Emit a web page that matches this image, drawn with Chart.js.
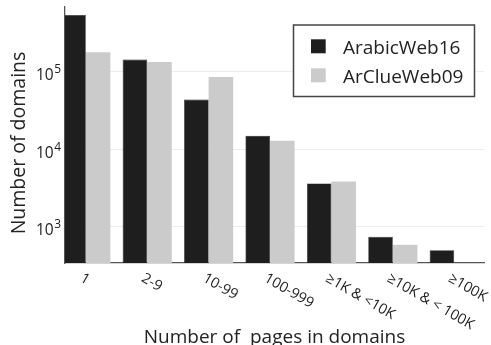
<!DOCTYPE html>
<html>
<head>
<meta charset="utf-8">
<script src="https://cdn.jsdelivr.net/npm/chart.js@4.4.1/dist/chart.umd.min.js"></script>
<style>
  html, body { margin: 0; padding: 0; background: #ffffff; }
  #wrap { width: 491px; height: 345px; }
</style>
</head>
<body>
<div id="wrap"><canvas id="c" width="491" height="345"></canvas></div>
<script>
// Domain size buckets (pages per domain)
const categories = ['1', '2-9', '10-99', '100-999', '\u22651K & <10K', '\u226510K & < 100K', '\u2265100K'];
// Number of domains in each bucket
const arabicWeb16 = [540000, 143000, 43600, 14900, 3600, 736, 495];
const arClueWeb09 = [178000, 133000, 85600, 12800, 3820, 580, null];
// Decade ticks on the log axis: [value, exponent]
const yTicks = [[1e3, '3'], [1e4, '4'], [1e5, '5']];
const seriesNames = ['ArabicWeb16', 'ArClueWeb09'];
const seriesColors = ['#1e1e1e', '#cbcbcb'];

const FONT = '"Open Sans", "Noto Sans", sans-serif';
const TEXT = '#222222';

const decorations = {
  id: 'decorations',
  afterDraw(chart) {
    const ctx = chart.ctx;
    const xs = chart.scales.x, ys = chart.scales.y;
    const area = chart.chartArea;
    ctx.save();
    ctx.fillStyle = TEXT;

    // y tick labels as 10 with a raised exponent
    yTicks.forEach(([v, exp]) => {
      const py = ys.getPixelForValue(v);
      ctx.font = '12px ' + FONT;
      ctx.textAlign = 'right';
      ctx.textBaseline = 'alphabetic';
      const ew = ctx.measureText(exp).width;
      ctx.fillText(exp, area.left - 4, py + 1.5);
      ctx.font = '15.5px ' + FONT;
      ctx.fillText('10', area.left - 4 - ew - 0.5, py + 8.5);
    });

    // x tick labels, turned 30 degrees clockwise
    ctx.font = '14.5px ' + FONT;
    ctx.textAlign = 'left';
    ctx.textBaseline = 'top';
    categories.forEach((lab, i) => {
      const px = xs.getPixelForValue(i);
      ctx.save();
      ctx.translate(px - 1, area.bottom + 8);
      ctx.rotate(Math.PI / 6);
      ctx.fillText(lab, 0, 0);
      ctx.restore();
    });

    // axis titles
    ctx.font = '19px ' + FONT;
    ctx.textAlign = 'center';
    ctx.textBaseline = 'alphabetic';
    ctx.fillText('Number of  pages in domains', 274.5, 342.5);
    ctx.save();
    ctx.translate(25, 143);
    ctx.rotate(-Math.PI / 2);
    ctx.font = '19.5px ' + FONT;
    ctx.fillText('Number of domains', 0, 0);
    ctx.restore();

    // legend box
    const lx = 293.5, ly = 25, lw = 181, lh = 71.5;
    ctx.fillStyle = '#ffffff';
    ctx.fillRect(lx, ly, lw, lh);
    ctx.strokeStyle = '#444444';
    ctx.lineWidth = 1.5;
    ctx.strokeRect(lx, ly, lw, lh);
    ctx.font = '19px ' + FONT;
    ctx.textAlign = 'left';
    ctx.textBaseline = 'alphabetic';
    seriesNames.forEach((name, k) => {
      const top = 39.3 + k * 29;
      ctx.fillStyle = seriesColors[k];
      ctx.fillRect(311, top, 14.7, 14);
      ctx.fillStyle = TEXT;
      ctx.fillText(name, 343, top + 14.5);
    });
    ctx.restore();
  }
};

new Chart(document.getElementById('c'), {
  type: 'bar',
  data: {
    datasets: [
      {
        label: seriesNames[0],
        data: arabicWeb16.map((v, i) => ({ x: i, y: v })),
        backgroundColor: seriesColors[0],
        borderColor: '#161616',
        borderWidth: 0.6,
        clip: 0
      },
      {
        label: seriesNames[1],
        data: arClueWeb09.map((v, i) => ({ x: i, y: v })),
        backgroundColor: seriesColors[1],
        borderWidth: 0,
        clip: 0
      }
    ]
  },
  options: {
    responsive: false,
    animation: false,
    events: [],
    categoryPercentage: 0.8,
    barPercentage: 1.0,
    layout: { padding: { left: 0, top: 7, right: 7, bottom: 0 } },
    plugins: {
      legend: { display: false },
      tooltip: { enabled: false }
    },
    scales: {
      x: {
        type: 'linear',
        offset: false,
        min: -0.339,
        max: 6.485,
        afterBuildTicks: s => { s.ticks = categories.map((_, i) => ({ value: i })); },
        afterFit: s => { s.height = 82; },
        ticks: { display: false },
        grid: { display: false, drawTicks: false },
        border: { display: true, color: '#555555', width: 1.3 }
      },
      y: {
        type: 'logarithmic',
        min: 337.6,
        max: 684000,
        afterBuildTicks: s => { s.ticks = yTicks.map(t => ({ value: t[0] })); },
        afterFit: s => { s.width = 65; },
        ticks: { display: false },
        grid: { color: '#ececec', lineWidth: 1, drawTicks: false },
        border: { display: true, color: '#555555', width: 1.3 }
      }
    }
  },
  plugins: [decorations]
});
</script>
</body>
</html>
